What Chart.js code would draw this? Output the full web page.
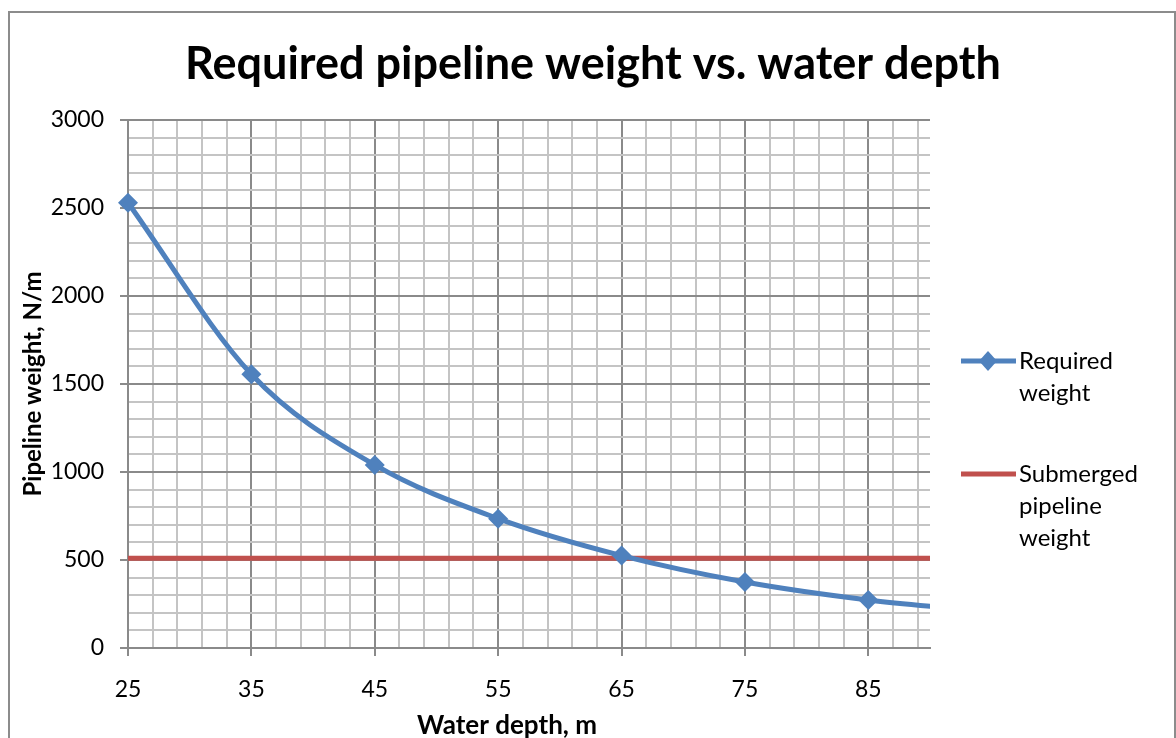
<!DOCTYPE html>
<html>
<head>
<meta charset="utf-8">
<script src="https://cdn.jsdelivr.net/npm/chart.js@4/dist/chart.umd.min.js"></script>
<style>
  html, body { margin: 0; padding: 0; background: #fff; }
  #wrap { width: 1176px; height: 738px; position: relative; }
</style>
</head>
<body>
<div id="wrap"><canvas id="grafico"></canvas></div>
<script>
// profundidades (m) y pesos (N/m)
const depths = [25, 35, 45, 55, 65, 75, 85, 95];
const requiredWeight = [2530, 1555, 1040, 735, 525, 375, 273, 205];
const submergedWeight = [510, 510, 510, 510, 510, 510, 510, 510];
const xMajorTicks = [25, 35, 45, 55, 65, 75, 85];
const yMajorTicks = [0, 500, 1000, 1500, 2000, 2500, 3000];

const titulo = "Required pipeline weight vs. water depth";
const tituloX = "Water depth, m";
const tituloY = "Pipeline weight, N/m";

const azul = "#4f81bd";
const rojo = "#c0504d";
const fuente = "Lato, 'Open Sans', sans-serif";

// marco exterior, titulo, titulo del eje x y leyenda con texto partido en varias lineas
const marcoLeyenda = {
  id: "marcoLeyenda",
  afterDraw: function (chart) {
    const ctx = chart.ctx;
    ctx.save();
    ctx.strokeStyle = "#8c8c8c";
    ctx.lineWidth = 2;
    ctx.beginPath();
    ctx.moveTo(9, 740);
    ctx.lineTo(9, 12);
    ctx.lineTo(1175, 12);
    ctx.lineTo(1175, 740);
    ctx.stroke();

    ctx.fillStyle = "#000";
    ctx.textAlign = "center";
    ctx.textBaseline = "middle";
    ctx.font = "bold 45px " + fuente;
    ctx.fillText(titulo, 593, 64);
    ctx.font = "bold 26px " + fuente;
    ctx.fillText(tituloX, 507, 726);

    const items = [
      { lines: ["Required", "weight"], color: azul, marker: true, y: 361 },
      { lines: ["Submerged", "pipeline", "weight"], color: rojo, marker: false, y: 474 },
    ];
    ctx.textAlign = "left";
    ctx.font = "24px " + fuente;
    items.forEach(function (it) {
      ctx.strokeStyle = it.color;
      ctx.lineWidth = 5;
      ctx.beginPath();
      ctx.moveTo(961, it.y);
      ctx.lineTo(1016, it.y);
      ctx.stroke();
      if (it.marker) {
        ctx.fillStyle = it.color;
        ctx.beginPath();
        ctx.moveTo(988, it.y - 10);
        ctx.lineTo(997, it.y);
        ctx.lineTo(988, it.y + 10);
        ctx.lineTo(979, it.y);
        ctx.closePath();
        ctx.fill();
      }
      ctx.fillStyle = "#000";
      it.lines.forEach(function (t, i) {
        ctx.fillText(t, 1019, it.y + i * 32);
      });
    });
    ctx.restore();
  },
};

const esMayorX = (v) => xMajorTicks.includes(v);
const esMayorY = (v) => yMajorTicks.includes(v);

new Chart(document.getElementById("grafico"), {
  type: "line",
  data: {
    datasets: [
      {
        label: "Required weight",
        data: depths.map((d, i) => ({ x: d, y: requiredWeight[i] })),
        borderColor: azul,
        backgroundColor: azul,
        borderWidth: 5,
        cubicInterpolationMode: "monotone",
        pointStyle: "rectRot",
        pointRadius: 10,
        pointHoverRadius: 10,
        pointBorderWidth: 0,
        clip: { left: 15, top: 15, right: 0, bottom: 15 },
      },
      {
        label: "Submerged pipeline weight",
        data: depths.map((d, i) => ({ x: d, y: submergedWeight[i] })),
        borderColor: rojo,
        backgroundColor: rojo,
        borderWidth: 5,
        pointRadius: 0,
        clip: { left: 0, top: 15, right: 0, bottom: 15 },
      },
    ],
  },
  options: {
    responsive: true,
    maintainAspectRatio: false,
    animation: false,
    layout: { padding: { left: 0, right: 246, top: 120, bottom: 0 } },
    plugins: {
      legend: { display: false },
      tooltip: { enabled: false },
      title: { display: false },
    },
    scales: {
      x: {
        type: "linear",
        min: 25,
        max: 90,
        afterBuildTicks: function (scale) {
          const t = [];
          for (let v = 25; v < 90; v += 2) t.push({ value: v });
          scale.ticks = t;
        },
        afterFit: function (scale) { scale.height = 90; },
        ticks: {
          color: "#000",
          font: { family: fuente, size: 23 },
          padding: 20,
          maxRotation: 0,
          autoSkip: false,
          callback: (v) => (esMayorX(v) ? String(v) : ""),
        },
        grid: {
          color: (c) => (esMayorX(c.tick.value) ? "#8a8a8a" : "#c4c4c4"),
          tickColor: (c) => (esMayorX(c.tick.value) ? "#8a8a8a" : "rgba(0,0,0,0)"),
          lineWidth: 2,
          tickLength: 8,
        },
        border: { color: "#8a8a8a", width: 2 },
      },
      y: {
        min: 0,
        max: 3000,
        afterFit: function (scale) { scale.width = 128; },
        ticks: {
          stepSize: 100,
          color: "#000",
          font: { family: fuente, size: 23 },
          padding: 16,
          autoSkip: false,
          callback: (v) => (esMayorY(v) ? String(v) : ""),
        },
        grid: {
          color: (c) => (esMayorY(c.tick.value) ? "#8a8a8a" : "#c4c4c4"),
          tickColor: (c) => (esMayorY(c.tick.value) ? "#8a8a8a" : "rgba(0,0,0,0)"),
          lineWidth: 2,
          tickLength: 8,
        },
        border: { color: "#8a8a8a", width: 2 },
        title: {
          display: true,
          text: tituloY,
          color: "#000",
          font: { family: fuente, size: 24, weight: "bold", lineHeight: 1.2 },
          padding: { top: 19, bottom: 0 },
        },
      },
    },
  },
  plugins: [marcoLeyenda],
});
</script>
</body>
</html>
